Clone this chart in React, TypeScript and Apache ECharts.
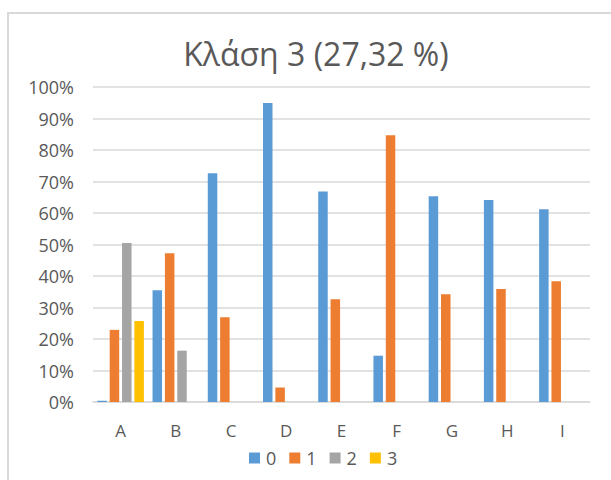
import React, { useEffect, useRef } from "react";
import * as echarts from "echarts";

const categories = ["A", "B", "C", "D", "E", "F", "G", "H", "I"];
const seriesNames = ["0", "1", "2", "3"];
const values0 = [0.4, 35.5, 72.6, 94.9, 66.8, 14.7, 65.3, 64.1, 61.2];
const values1 = [22.9, 47.2, 26.9, 4.6, 32.6, 84.7, 34.2, 35.9, 38.3];
const values2 = [50.5, 16.3, null, null, null, null, null, null, null];
const values3 = [25.7, null, null, null, null, null, null, null, null];
const colors = ["#5B9BD5", "#ED7D31", "#A5A5A5", "#FFC000"];
const titleText = "Κλάση 3 (27,32 %)";

export default function App() {
  const ref = useRef<HTMLDivElement>(null);
  useEffect(() => {
    if (!ref.current) return;
    const chart = echarts.init(ref.current, null, { renderer: "svg" });
    const font = "'Open Sans', 'Noto Sans', sans-serif";
    const data = [values0, values1, values2, values3];
    chart.setOption({
      animation: false,
      textStyle: { fontFamily: font },
      title: {
        text: titleText,
        left: 311,
        top: 32,
        textAlign: "center",
        textStyle: { fontSize: 32, fontWeight: "normal", color: "#595959", fontFamily: font },
      },
      graphic: [
        {
          type: "rect",
          shape: { x: 8, y: 13, width: 700, height: 600 },
          style: { fill: "none", stroke: "#d9d9d9", lineWidth: 2 },
          silent: true,
        },
      ],
      legend: {
        data: seriesNames,
        left: 244,
        top: 444,
        icon: "rect",
        itemWidth: 11,
        itemHeight: 11,
        itemGap: 13,
        textStyle: { fontSize: 18, color: "#595959", fontFamily: font, padding: [0, 0, 0, 1] },
      },
      grid: { left: 93, right: 21, top: 87, bottom: 78, containLabel: false },
      xAxis: {
        type: "category",
        data: categories,
        axisLine: { lineStyle: { color: "#d9d9d9", width: 1.5 } },
        axisTick: { show: false },
        axisLabel: { color: "#595959", fontSize: 17, margin: 20, fontFamily: font },
      },
      yAxis: {
        type: "value",
        min: 0,
        max: 100,
        interval: 10,
        axisLine: { show: false },
        axisTick: { show: false },
        splitLine: { lineStyle: { color: "#d9d9d9", width: 1.5 } },
        axisLabel: {
          color: "#595959",
          fontSize: 18,
          margin: 19,
          fontFamily: font,
          formatter: (v: number) => `${v}%`,
        },
      },
      series: seriesNames.map((name, i) => ({
        name,
        type: "bar",
        data: data[i],
        barWidth: 9.5,
        barGap: "30%",
        itemStyle: { color: colors[i] },
      })),
    });
    return () => chart.dispose();
  }, []);
  return (
    <div
      ref={ref}
      style={{ position: "fixed", left: 0, top: 0, width: 611, height: 480, background: "#fff" }}
    />
  );
}
